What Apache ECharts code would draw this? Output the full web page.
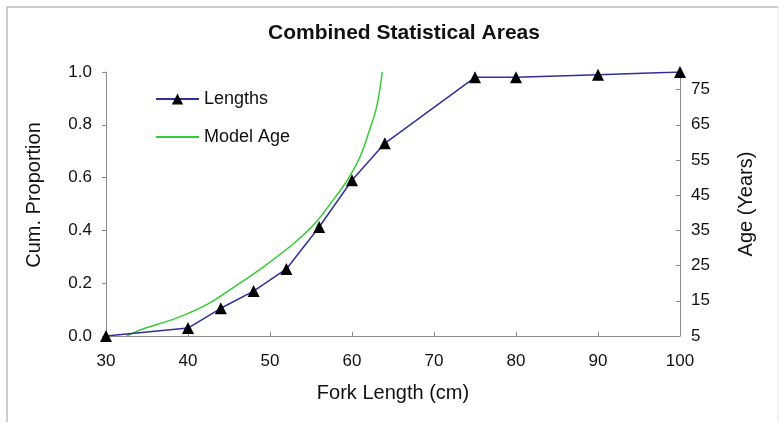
<!DOCTYPE html>
<html>
<head>
<meta charset="utf-8">
<script src="https://cdn.jsdelivr.net/npm/echarts@6/dist/echarts.min.js"></script>
<style>
  html, body { margin: 0; padding: 0; background: #fff; }
  #main { width: 784px; height: 426px; }
</style>
</head>
<body>
<div id="main"></div>
<script>
// cumulative proportion by fork length
var lengthX = [30, 40, 44, 48, 52, 56, 60, 64, 75, 80, 90, 100];
var lengthCum = [0.0, 0.03, 0.105, 0.17, 0.254, 0.413, 0.59, 0.73, 0.98, 0.98, 0.99, 1.0];

// model age curve (right axis)
var modelX = [32.5, 34.5, 38.5, 42.5, 46, 49, 53, 55.5, 57.5, 59.5, 61, 62, 63, 63.7];
var modelAge = [5, 7, 10, 14.2, 19.5, 24.3, 31.5, 37, 43, 49.5, 56, 62.5, 70, 80];

function pairs(xs, ys) {
  return xs.map(function (x, i) { return [x, ys[i]]; });
}

var chart = echarts.init(document.getElementById('main'));
var axisGray = '#8c8c8c';
var font = 'Liberation Sans, Arial, sans-serif';

chart.setOption({
  backgroundColor: '#ffffff',
  animation: false,
  textStyle: { fontFamily: font },
  graphic: [
    { type: 'line', shape: { x1: 7, y1: 7, x2: 778, y2: 7 }, style: { stroke: '#9a9a9a', lineWidth: 1 } },
    { type: 'line', shape: { x1: 7, y1: 7, x2: 7, y2: 422 }, style: { stroke: '#9a9a9a', lineWidth: 1 } },
    { type: 'line', shape: { x1: 778, y1: 7, x2: 778, y2: 422 }, style: { stroke: '#e4e4e4', lineWidth: 1 } }
  ],
  title: {
    text: 'Combined Statistical Areas',
    left: 268,
    top: 23,
    padding: 0,
    textStyle: { fontSize: 21, fontWeight: 'bold', color: '#111', fontFamily: font }
  },
  legend: {
    orient: 'vertical',
    left: 155,
    top: 90,
    padding: 0,
    itemWidth: 43,
    itemHeight: 14,
    itemGap: 20,
    textStyle: { fontSize: 18, color: '#111', fontFamily: font },
    data: ['Lengths', { name: 'Model Age', itemStyle: { opacity: 0 } }]
  },
  grid: { left: 106, right: 104, top: 72, bottom: 90 },
  xAxis: {
    type: 'value',
    min: 30,
    max: 100,
    interval: 10,
    name: 'Fork Length (cm)',
    nameLocation: 'middle',
    nameGap: 47,
    nameTextStyle: { fontSize: 20, color: '#111', fontFamily: font },
    splitLine: { show: false },
    axisLine: { lineStyle: { color: axisGray } },
    axisTick: { inside: true, length: 4, lineStyle: { color: axisGray } },
    axisLabel: { fontSize: 17, color: '#111', margin: 17, fontFamily: font }
  },
  yAxis: [{
    type: 'value',
    min: 0,
    max: 1,
    interval: 0.2,
    name: 'Cum. Proportion',
    nameLocation: 'middle',
    nameGap: 62,
    nameTextStyle: { fontSize: 20, color: '#111', fontFamily: font, padding: [0, 0, 0, 18] },
    splitLine: { show: false },
    axisLine: { show: true, lineStyle: { color: axisGray } },
    axisTick: { show: true, length: 4, lineStyle: { color: axisGray } },
    axisLabel: {
      fontSize: 17, color: '#111', margin: 14, fontFamily: font,
      formatter: function (v) { return v.toFixed(1); }
    }
  }, {
    type: 'value',
    position: 'right',
    min: 5,
    max: 80,
    interval: 10,
    name: 'Age (Years)',
    nameLocation: 'middle',
    nameGap: 56,
    nameTextStyle: { fontSize: 20, color: '#111', fontFamily: font },
    splitLine: { show: false },
    axisLine: { show: true, lineStyle: { color: axisGray } },
    axisTick: { show: true, inside: true, length: 4, lineStyle: { color: axisGray } },
    axisLabel: { fontSize: 17, color: '#111', margin: 11, showMaxLabel: false, fontFamily: font }
  }],
  series: [{
    name: 'Lengths',
    type: 'line',
    yAxisIndex: 0,
    data: pairs(lengthX, lengthCum),
    symbol: 'triangle',
    symbolSize: 12,
    itemStyle: { color: '#000000' },
    lineStyle: { color: '#30309c', width: 1.5 },
    z: 3
  }, {
    name: 'Model Age',
    type: 'line',
    yAxisIndex: 1,
    data: pairs(modelX, modelAge),
    smooth: 0.3,
    symbol: 'none',
    itemStyle: { color: '#33cc33' },
    lineStyle: { color: '#33cc33', width: 1.5 },
    z: 2
  }]
});
</script>
</body>
</html>
